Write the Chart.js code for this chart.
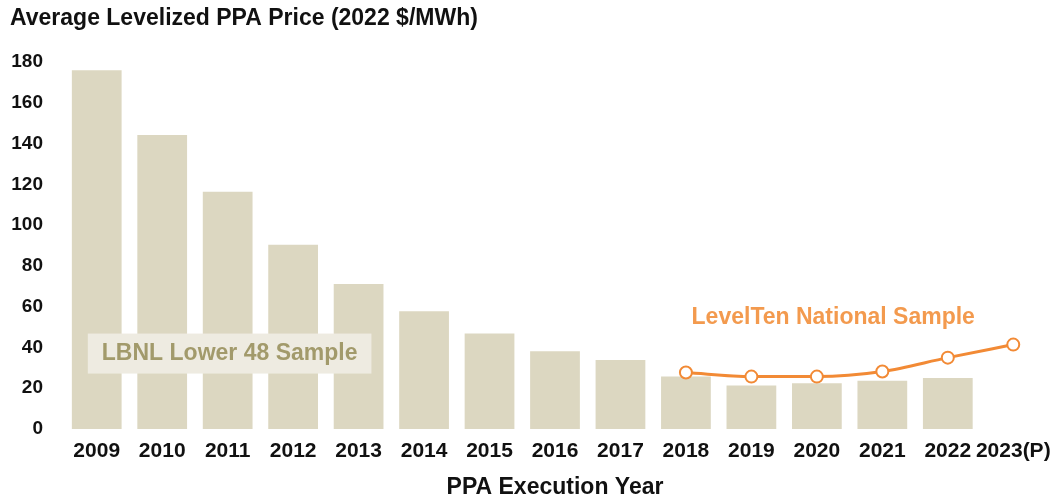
<!DOCTYPE html>
<html>
<head>
<meta charset="utf-8">
<script src="https://cdn.jsdelivr.net/npm/chart.js@4"></script>
<style>
html,body{margin:0;padding:0;background:#fff}
#wrap{width:1055px;height:499px}
</style>
</head>
<body>
<div id="wrap"><canvas id="Chart1HTML" width="1055" height="499"></canvas></div>
<script>
// data
let YEARS=['2009','2010','2011','2012','2013','2014','2015','2016','2017','2018','2019','2020','2021','2022','2023(P)']
let LBNL=[176,144.2,116.4,90.4,71.1,57.7,46.9,38.1,33.9,25.7,21.3,22.4,23.7,25.0,null]
let LEVELTEN=[null,null,null,null,null,null,null,null,null,27.7,25.7,25.7,28.2,35.0,41.4]
let YTICKS=[0,20,40,60,80,100,120,140,160,180]

const FONT='"Liberation Sans", Arial, sans-serif'
const BARCOL='#DCD7C1'
const ORANGE='#F28A35'
const TITLE='Average Levelized PPA Price (2022 $/MWh)'

// title + series labels, label spots placed through the scales
const seriesLabels={
id:'seriesLabels',
afterDatasetsDraw(chart){
let ctx=chart.ctx, x=chart.scales.x, y=chart.scales.y
ctx.save()
ctx.textBaseline='middle'
ctx.fillStyle='#111'
ctx.textAlign='left'
ctx.font='bold 23px '+FONT
ctx.fillText(TITLE,10,19)
ctx.textAlign='center'
// LBNL box
let cx=x.getPixelForValue(2.03), cy=y.getPixelForValue(37)
let w=ctx.measureText('LBNL Lower 48 Sample').width+28
ctx.fillStyle='#EEEBE1'
ctx.fillRect(cx-w/2,cy-20,w,40)
ctx.fillStyle='#A29A6B'
ctx.fillText('LBNL Lower 48 Sample',cx,cy)
// LevelTen label
ctx.fillStyle='#F39A4E'
ctx.fillText('LevelTen National Sample',x.getPixelForValue(11.25),y.getPixelForValue(54.6))
ctx.restore()
}
}

let Chart1=new Chart(
document.getElementById('Chart1HTML'),
{
data:{
labels:YEARS,
datasets:[
{
type:'line',
data:LEVELTEN,
borderColor:ORANGE,
borderWidth:3,
tension:0.4,
cubicInterpolationMode:'monotone',
pointRadius:6,
pointBackgroundColor:'#fff',
pointBorderColor:ORANGE,
pointBorderWidth:2,
order:0
},
{
type:'bar',
data:LBNL,
backgroundColor:BARCOL,
barPercentage:0.76,
categoryPercentage:1,
order:1
}
]
},
options:{
responsive:false,
animation:false,
layout:{padding:{left:0,right:9,top:62,bottom:0}},
scales:{
x:{
offset:true,
afterFit(s){s.paddingLeft=0;s.paddingRight=0},
grid:{display:false,drawTicks:false,tickLength:0},
border:{display:false},
ticks:{color:'#111',font:{family:FONT,size:21,weight:'bold',lineHeight:1},padding:12,maxRotation:0,autoSkip:false},
title:{display:true,text:'PPA Execution Year',color:'#111',font:{family:FONT,size:23,weight:'bold',lineHeight:1},padding:{top:2,bottom:0}}
},
y:{
min:0,max:180,
afterBuildTicks(s){s.ticks=YTICKS.map(v=>({value:v}))},
afterFit(s){s.width=64},
grid:{display:false,drawTicks:false,tickLength:0},
border:{display:false},
ticks:{color:'#111',font:{family:FONT,size:19,weight:'bold'},padding:21}
}
},
plugins:{
legend:{display:false},
tooltip:{enabled:false},
title:{display:false}
}
},
plugins:[seriesLabels]
}
)
</script>
</body>
</html>
